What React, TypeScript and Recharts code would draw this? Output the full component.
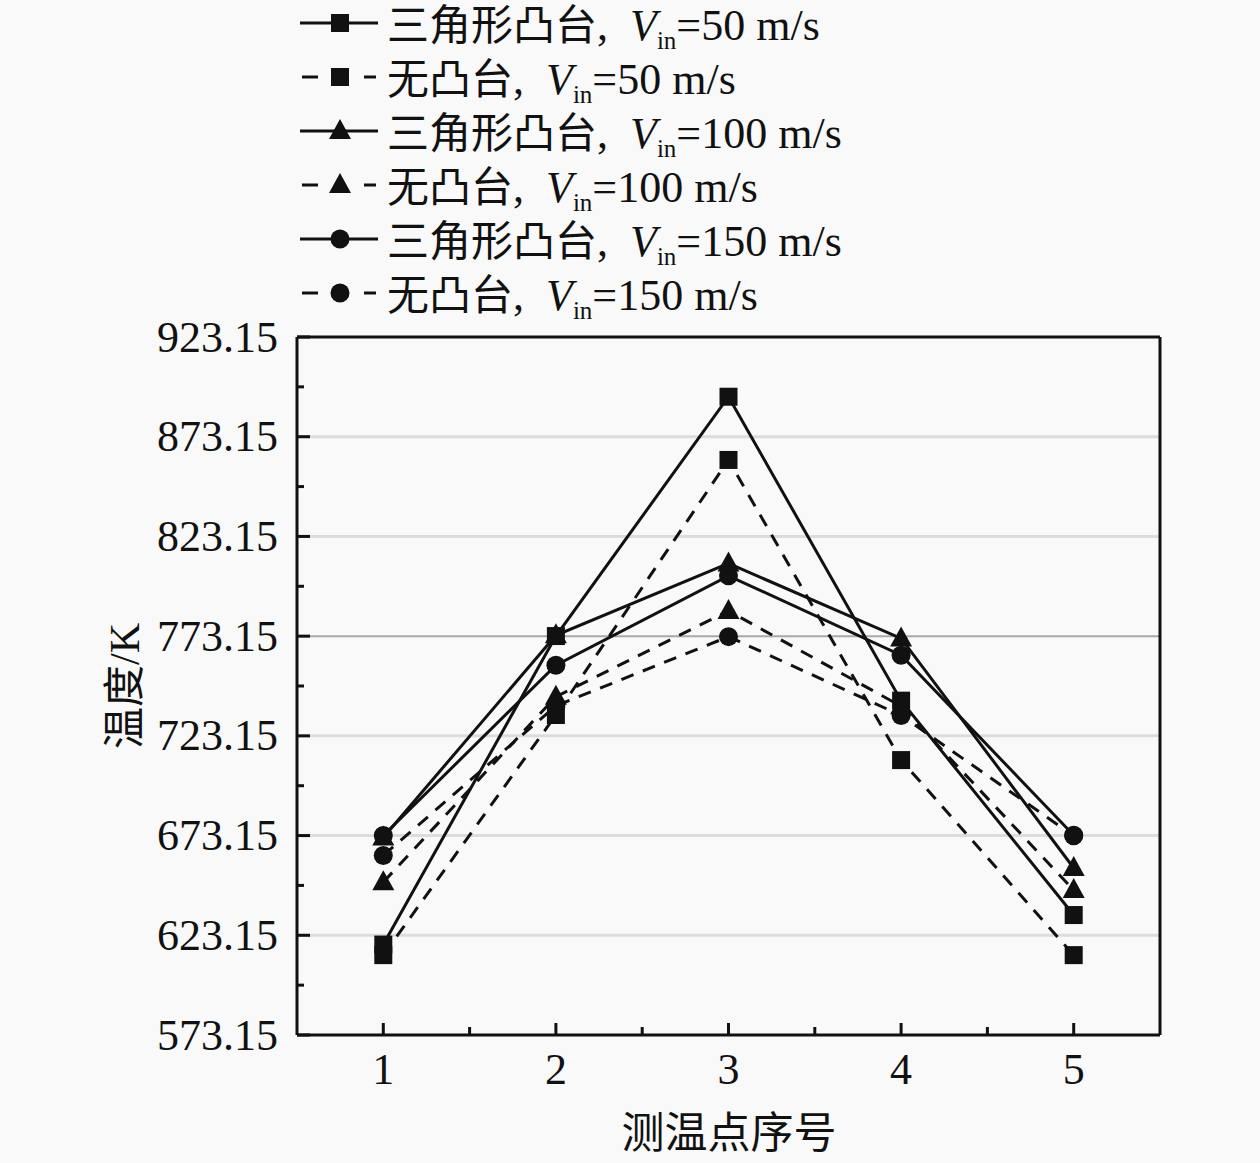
import React from "react";
import {
  CartesianGrid,
  Line,
  LineChart,
  ReferenceLine,
  XAxis,
  YAxis
} from "recharts";

const FONT = '"Liberation Serif", "Noto Sans CJK SC", serif'

const points = [1, 2, 3, 4, 5]
const tri50 = [618.5, 773.2, 893.2, 740.8, 633.3]
const none50 = [613.2, 733.6, 861.5, 711.0, 613.2]
const tri100 = [672.2, 773.6, 809.6, 772.0, 656.9]
const none100 = [649.8, 742.8, 785.8, 738.0, 645.8]
const tri150 = [673.2, 758.6, 803.4, 763.6, 673.3]
const none150 = [663.2, 738.2, 772.9, 733.4, 673.0]

const yTicks = [573.15, 598.15, 623.15, 648.15, 673.15, 698.15, 723.15, 748.15, 773.15, 798.15, 823.15, 848.15, 873.15, 898.15, 923.15]
const yLabels = ['573.15', '623.15', '673.15', '723.15', '773.15', '823.15', '873.15', '923.15']
const xTicks = [1, 1.5, 2, 2.5, 3, 3.5, 4, 4.5, 5]
const xLabels = ['1', '2', '3', '4', '5']
const gridValues = [623.15, 673.15, 723.15, 823.15, 873.15]

const series = [
  { key: 'tri50', name: '三角形凸台', v: '50', marker: 'square', dashed: false },
  { key: 'none50', name: '无凸台', v: '50', marker: 'square', dashed: true },
  { key: 'tri100', name: '三角形凸台', v: '100', marker: 'triangle', dashed: false },
  { key: 'none100', name: '无凸台', v: '100', marker: 'triangle', dashed: true },
  { key: 'tri150', name: '三角形凸台', v: '150', marker: 'circle', dashed: false },
  { key: 'none150', name: '无凸台', v: '150', marker: 'circle', dashed: true },
]

const chartData = points.map((p, i) => ({
  x: p,
  tri50: tri50[i], none50: none50[i],
  tri100: tri100[i], none100: none100[i],
  tri150: tri150[i], none150: none150[i],
}))

function Marker({ type, cx, cy }: { type: string, cx: number, cy: number }) {
  if (type === 'square')
    return <rect x={cx - 9} y={cy - 9} width={18} height={18} fill="#111" />
  if (type === 'triangle')
    return <polygon points={`${cx},${cy - 12} ${cx - 11},${cy + 8} ${cx + 11},${cy + 8}`} fill="#111" />
  return <circle cx={cx} cy={cy} r={9.5} fill="#111" />
}

function YTick({ x, y, payload }: any) {
  const label = payload.value.toFixed(2)
  const major = yLabels.includes(label)
  return (
    <g>
      <line x1={x} x2={x + (major ? 13 : 7)} y1={y} y2={y} stroke="#111" strokeWidth={3} />
      {major && (
        <text x={x - 19} y={y} textAnchor="end" dominantBaseline="central"
          fontFamily={FONT} fontSize={44} fill="#111">{label}</text>
      )}
    </g>
  )
}

function XTick({ x, y, payload }: any) {
  const label = String(payload.value)
  const major = xLabels.includes(label)
  return (
    <g>
      <line x1={x} x2={x} y1={y} y2={y - (major ? 12 : 8)} stroke="#111" strokeWidth={3} />
      {major && (
        <text x={x} y={y + 34} textAnchor="middle" dominantBaseline="central"
          fontFamily={FONT} fontSize={44} fill="#111">{label}</text>
      )}
    </g>
  )
}

function Titles() {
  return (
    <g fontFamily={FONT} fill="#111">
      <text x={125} y={686} transform="rotate(-90 125 686)" textAnchor="middle" dominantBaseline="central"
        fontSize={42}>温度/K</text>
      <text x={729} y={1133} textAnchor="middle" dominantBaseline="central"
        fontSize={43}>测温点序号</text>
    </g>
  )
}

function ChartLegend() {
  return (
    <g fontFamily={FONT} fill="#111">
      {series.map((s, i) => {
        const cy = 23 + i * 54
        return (
          <g key={s.key}>
            {s.dashed ? (
              <g stroke="#111" strokeWidth={3}>
                <line x1={302} x2={318} y1={cy} y2={cy} />
                <line x1={364} x2={376} y1={cy} y2={cy} />
              </g>
            ) : (
              <line x1={300} x2={378} y1={cy} y2={cy} stroke="#111" strokeWidth={3} />
            )}
            <Marker type={s.marker} cx={340} cy={cy} />
            <text x={387} y={cy + 17} fontSize={44}>
              <tspan fontSize={42}>{s.name}</tspan>
              <tspan>,</tspan>
              <tspan dx={22} fontStyle="italic">V</tspan>
              <tspan fontSize={25} dy={9}>in</tspan>
              <tspan dy={-9}>={s.v} m/s</tspan>
            </text>
          </g>
        )
      })}
    </g>
  )
}

export default function App() {
  return (
    <div style={{ position: 'absolute', left: 0, top: 0, width: 1260, height: 1163, background: '#f9f9f9' }}>
      <div style={{ position: 'absolute', left: 0, top: 0 }}>
        <LineChart width={1260} height={1163} data={chartData}
          margin={{ top: 337, right: 100, bottom: 0, left: 177 }}>
          <CartesianGrid vertical={false} horizontalValues={gridValues} stroke="#dcdcdc" strokeWidth={3} />
          <ReferenceLine y={773.15} stroke="#a8a8a8" strokeWidth={2} />
          <XAxis dataKey="x" type="number" domain={[0.5, 5.5]} ticks={xTicks} interval={0}
            height={128} tickSize={0} tickMargin={0} tickLine={false}
            axisLine={{ stroke: '#111', strokeWidth: 3 }} tick={<XTick />} />
          <YAxis type="number" domain={[573.15, 923.15]} ticks={yTicks} interval={0}
            width={120} tickSize={0} tickMargin={0} tickLine={false}
            axisLine={{ stroke: '#111', strokeWidth: 3 }} tick={<YTick />} />
          <ReferenceLine y={923.15} stroke="#111" strokeWidth={3} />
          <ReferenceLine x={5.5} stroke="#111" strokeWidth={3} />
          {series.map((s) => (
            <Line key={s.key} dataKey={s.key} type="linear" stroke="#111" strokeWidth={3}
              strokeDasharray={s.dashed ? '13 10' : undefined} isAnimationActive={false}
              dot={(p: any) => <Marker key={`${s.key}-${p.index}`} type={s.marker} cx={p.cx} cy={p.cy} />}
              activeDot={false} />
          ))}
        </LineChart>
      </div>
      <svg width={1260} height={1163} style={{ position: 'absolute', left: 0, top: 0, pointerEvents: 'none' }}>
        <ChartLegend />
        <Titles />
      </svg>
    </div>
  )
}
